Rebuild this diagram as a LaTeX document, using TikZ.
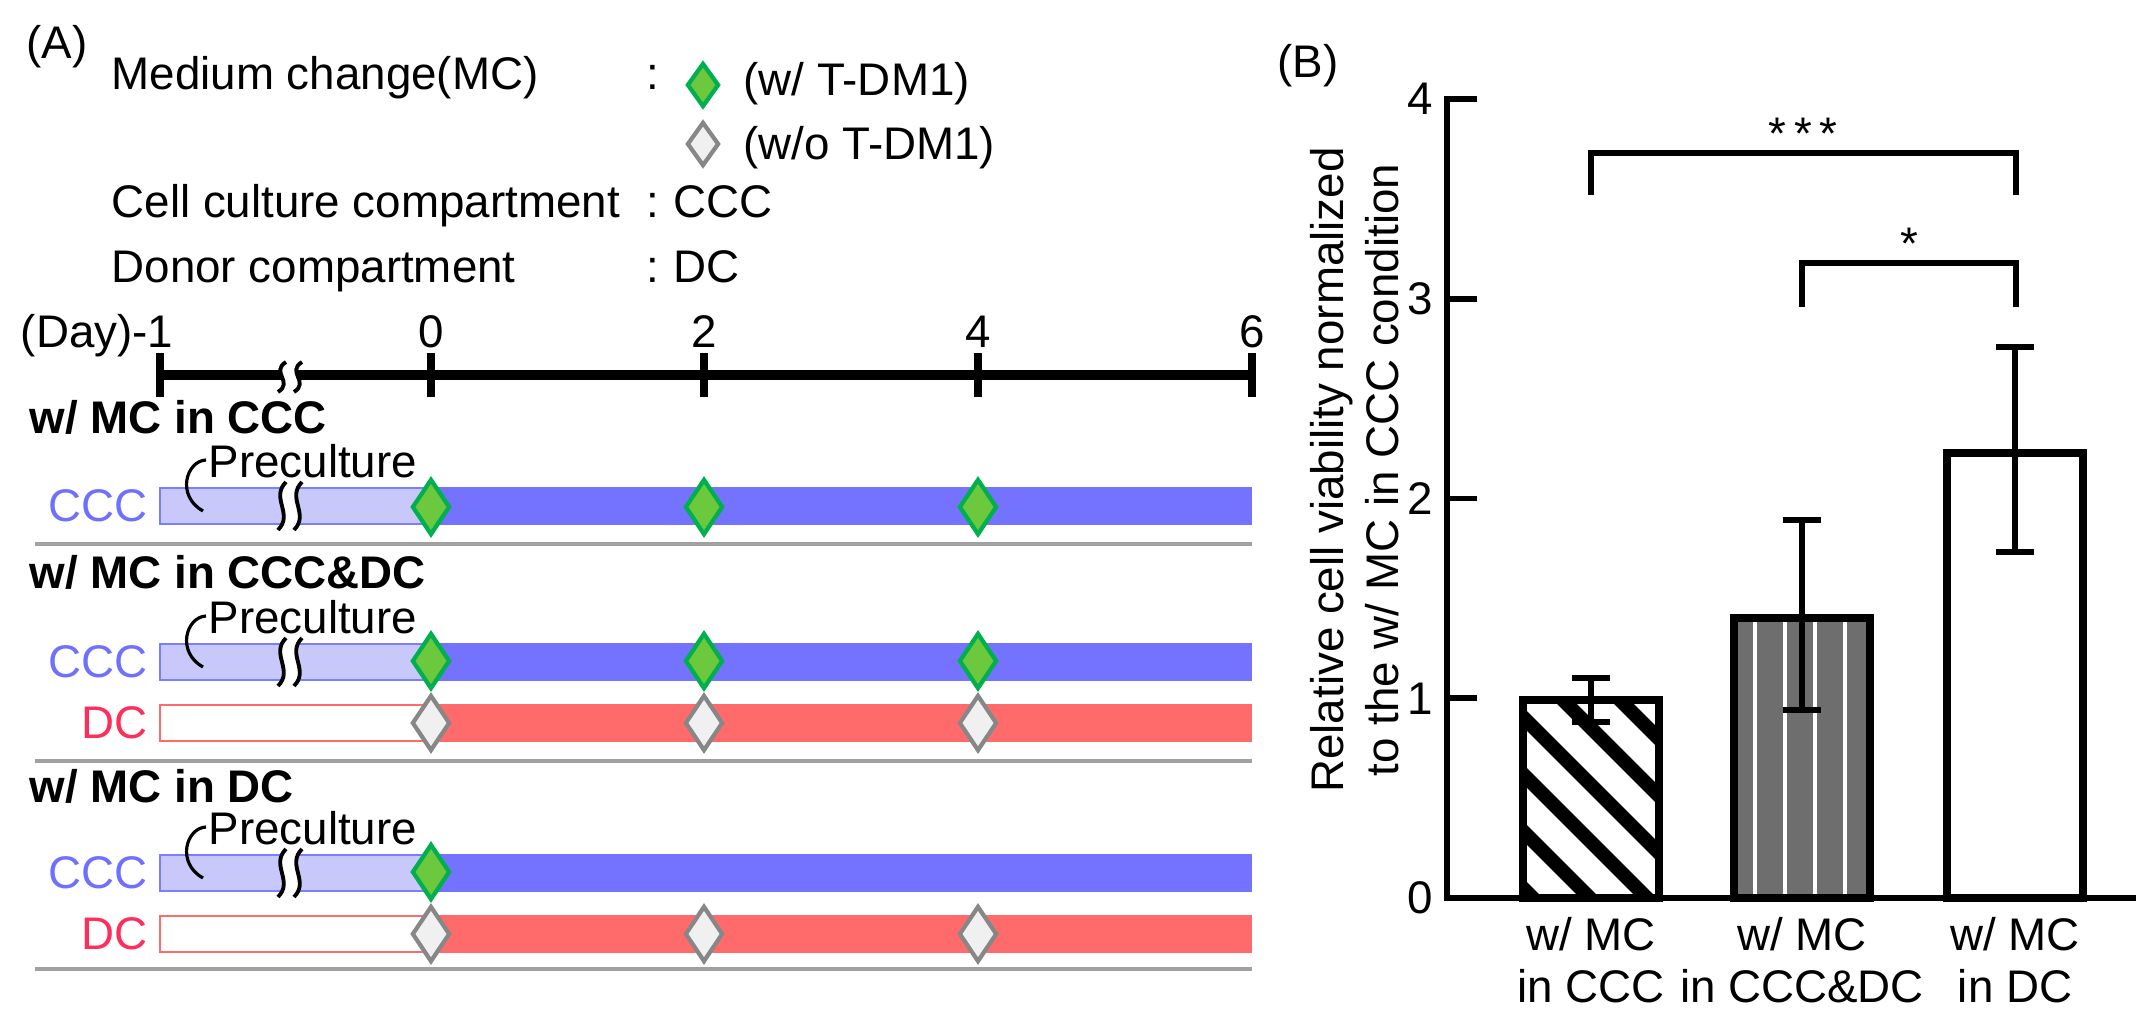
\documentclass[tikz,border=0pt]{standalone}
\usepackage{fontspec}
\setmainfont{Liberation Sans}
\usetikzlibrary{shapes.geometric}
\definecolor{cccdark}{RGB}{115,115,255}
\definecolor{ccclight}{RGB}{200,200,250}
\definecolor{cccedge}{RGB}{125,125,255}
\definecolor{cccfont}{RGB}{112,112,255}
\definecolor{dcdark}{RGB}{255,107,107}
\definecolor{dcfont}{RGB}{255,45,90}
\definecolor{mcgreen}{RGB}{108,200,60}
\definecolor{mcedge}{RGB}{0,176,80}
\definecolor{nogray}{RGB}{240,240,240}
\definecolor{noedge}{RGB}{135,135,135}
\definecolor{sepgray}{RGB}{160,160,160}
\definecolor{bargray}{RGB}{110,110,110}

% two wavy strokes with a white gap: x, y centre, half height
\newcommand{\axisbreak}[3]{%
  \fill[white] (#1-4,#2-#3) .. controls (#1-20,#2-#3/3) and (#1+4,#2+#3/3) .. (#1-12,#2+#3)
    -- (#1+4,#2+#3) .. controls (#1+20,#2+#3/3) and (#1-4,#2-#3/3) .. (#1+12,#2-#3) -- cycle;
  \draw[line width=1.1pt] (#1-4,#2-#3) .. controls (#1-20,#2-#3/3) and (#1+4,#2+#3/3) .. (#1-12,#2+#3);
  \draw[line width=1.1pt] (#1+12,#2-#3) .. controls (#1-4,#2-#3/3) and (#1+20,#2+#3/3) .. (#1+4,#2+#3);
}

\begin{document}
\begin{tikzpicture}[x=0.01cm, y=-0.01cm, font=\fontsize{13}{15}\selectfont,
  lbl/.style={inner sep=0pt},
  rowtitle/.style={inner sep=0pt, anchor=base west, font=\fontsize{13}{15}\selectfont\bfseries},
  mcon/.style={diamond, draw=mcedge, fill=mcgreen, line width=1.2pt, inner sep=0pt,
               minimum width=0.38cm, minimum height=0.56cm},
  mcoff/.style={mcon, draw=noedge, fill=nogray},
  sepline/.style={draw=sepgray, line width=1.4pt},
  prebar/.style={line width=0.8pt},
  barline/.style={line width=2.3pt},
  errbar/.style={line width=1.7pt},
  sigline/.style={line width=1.5pt}]

  \useasboundingbox (0,0) rectangle (2138,1019);

  % (A) legend
  \node[lbl, anchor=base] (labA) at (57,59) {(A)};
  \node[lbl, anchor=base west] (mc) at (111,90) {Medium change(MC)};
  \node[lbl, anchor=base west] (ccc) at (111,218) {Cell culture compartment};
  \node[lbl, anchor=base west] (dc) at (111,283) {Donor compartment};
  \foreach \n/\yb in {mc/90, ccc/218, dc/283}
    \node[lbl, anchor=base] (col\n) at (653,\yb) {:};
  \node[mcon, minimum width=0.32cm, minimum height=0.44cm] (legon) at (703,85) {};
  \node[lbl, anchor=base west] (legontxt) at (743,96) {(w/ T-DM1)};
  \node[mcoff, minimum width=0.32cm, minimum height=0.44cm] (legoff) at (703,144) {};
  \node[lbl, anchor=base west] (legofftxt) at (743,160) {(w/o T-DM1)};
  \node[lbl, anchor=base west] (cccabbr) at (673,218) {CCC};
  \node[lbl, anchor=base west] (dcabbr) at (673,283) {DC};

  % time axis
  \draw[line width=2.8pt] (160,375) -- (1252,375);
  \draw[line width=2.3pt] (160,353) -- (160,397);
  \node[lbl, anchor=base east] (daym1) at (174,348) {(Day)-1};
  \foreach \d/\tx in {0/431, 2/704, 4/978, 6/1252} {
    \draw[line width=2.3pt] (\tx,353) -- (\tx,397);
    \node[lbl, anchor=base] (day\d) at (\tx,348) {\d};
  }
  \axisbreak{290}{377}{15}

  % conditions
  \node[rowtitle] (row1) at (29,434) {w/ MC in CCC};
  \node[rowtitle] (row2) at (29,589) {w/ MC in CCC\&DC};
  \node[rowtitle] (row3) at (29,803) {w/ MC in DC};

  \foreach \r/\yc in {1/506, 2/662, 3/873} {
    \fill[cccdark] (431,\yc-19) rectangle (1252,\yc+19);
    \draw[prebar, draw=cccedge, fill=ccclight] (160,\yc-18) rectangle (431,\yc+18);
    \node[lbl, anchor=base east, text=cccfont] (cccrow\r) at (148,\yc+16) {CCC};
    \node[lbl, anchor=base west] (pre\r) at (208,\yc-28) {Preculture};
    \draw[line width=0.9pt] (206,\yc-46) .. controls (186,\yc-45) and (176,\yc-10) .. (203,\yc+5);
    \axisbreak{290}{\yc}{24}
  }
  \foreach \r/\yc in {2/723, 3/934} {
    \fill[dcdark] (431,\yc-19) rectangle (1252,\yc+19);
    \draw[prebar, draw=dcdark, fill=white] (160,\yc-18) rectangle (431,\yc+18);
    \node[lbl, anchor=base east, text=dcfont] (dcrow\r) at (148,\yc+16) {DC};
  }

  \foreach \d/\tx in {0/431, 2/704, 4/978} {
    \node[mcon] (onA\d) at (\tx,507) {};
    \node[mcon] (onB\d) at (\tx,661) {};
    \node[mcoff] (offB\d) at (\tx,723) {};
    \node[mcoff] (offC\d) at (\tx,934) {};
  }
  \node[mcon] (onC0) at (431,872) {};

  \foreach \sy in {544, 761, 969}
    \draw[sepline] (35,\sy) -- (1252,\sy);

  % (B) bar chart
  \node[lbl, anchor=base] (labB) at (1308,78) {(B)};

  \begin{scope}
    \clip (1524,898) rectangle (1658,{898-199.75*0.99});
    \foreach \k in {-3,...,3}
      \draw[line width=4pt] (1324,{518+57*\k}) -- ++(500,500);
  \end{scope}
  \fill[bargray] (1734,898) rectangle (1870,{898-199.75*1.40});
  \foreach \wx in {1755,1785,1815,1845}
    \draw[white, line width=1.2pt] (\wx,898) -- (\wx,{898-199.75*1.40});

  \foreach \b/\xc/\val/\lo/\hi in {1/1591/0.99/0.88/1.10, 2/1802/1.40/0.94/1.89,
                                   3/2015/2.23/1.73/2.76} {
    \draw[barline] (\xc-68,898) rectangle (\xc+68,{898-199.75*\val});
    \draw[errbar] (\xc,{898-199.75*\lo}) -- (\xc,{898-199.75*\hi});
    \foreach \e in {\lo,\hi}
      \draw[errbar] (\xc-19,{898-199.75*\e}) -- (\xc+19,{898-199.75*\e});
  }

  \draw[line width=1.7pt] (1477,99) -- (1447,99) -- (1447,898) -- (2136,898);
  \foreach \v in {1,...,3}
    \draw[line width=1.7pt] (1447,{898-199.75*\v}) -- (1477,{898-199.75*\v});
  \foreach \v in {0,...,4}
    \node[lbl, anchor=base east] (tick\v) at (1434,{898-199.75*\v+16}) {\v};

  \node[lbl, rotate=90, anchor=base] (ylabt) at (1343,470) {Relative cell viability normalized};
  \node[lbl, rotate=90, anchor=base] (ylabb) at (1398,470) {to the w/ MC in CCC condition};

  \foreach \b/\xc/\cond in {1/1591/CCC, 2/1802/CCC\&DC, 3/2015/DC} {
    \node[lbl, anchor=base] (xlabt\b) at (\xc,951) {w/ MC};
    \node[lbl, anchor=base] (xlabb\b) at (\xc,1003) {in \cond};
  }

  \draw[sigline] (1591,195) -- (1591,153) -- (2016,153) -- (2016,195);
  \node[lbl, anchor=base] (sig3) at (1803,150) {*\,*\,*};
  \draw[sigline] (1802,307) -- (1802,263) -- (2016,263) -- (2016,307);
  \node[lbl, anchor=base] (sig1) at (1909,260) {*};
\end{tikzpicture}
\end{document}
